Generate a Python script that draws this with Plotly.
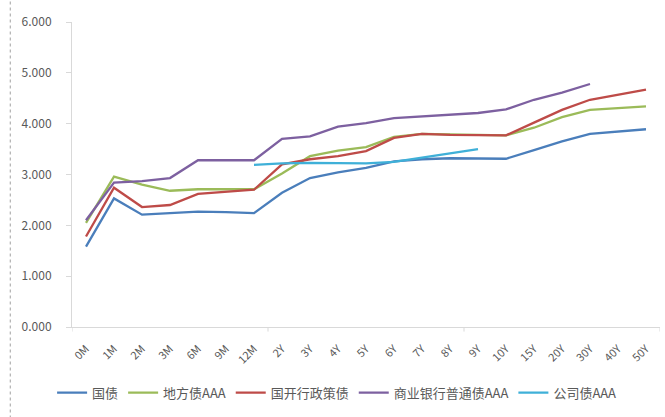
import plotly.graph_objects as go

categories = ["0M", "1M", "2M", "3M", "6M", "9M", "12M", "2Y", "3Y", "4Y", "5Y",
              "6Y", "7Y", "8Y", "9Y", "10Y", "15Y", "20Y", "30Y", "40Y", "50Y"]

guozhai = [1.58, 2.53, 2.21, 2.24, 2.27, 2.26, 2.24, 2.64, 2.93, 3.04, 3.13,
           3.26, 3.30, 3.32, 3.32, 3.31, 3.48, 3.65, 3.80, 3.85, 3.89]
difangzhai = [2.05, 2.96, 2.80, 2.68, 2.71, 2.71, 2.71, 3.02, 3.36, 3.47, 3.54,
              3.74, 3.80, 3.79, 3.78, 3.77, 3.92, 4.13, 4.27, 4.31, 4.34]
guokaihang = [1.78, 2.74, 2.36, 2.40, 2.62, 2.66, 2.70, 3.20, 3.30, 3.36, 3.46,
              3.72, 3.80, 3.78, 3.77, 3.77, 4.02, 4.27, 4.47, 4.57, 4.67]
shangyeyinhang = [2.10, 2.84, 2.87, 2.93, 3.28, 3.28, 3.28, 3.70, 3.75, 3.94, 4.01,
                  4.11, 4.14, 4.17, 4.21, 4.28, 4.47, 4.61, 4.78, None, None]
gongsizhai = [None, None, None, None, None, None, 3.19, 3.22, 3.23, 3.22, 3.22,
              3.25, 3.33, 3.42, 3.50, None, None, None, None, None, None]

series = [
    ("国债", guozhai, "#4a7ebb"),
    ("地方债AAA", difangzhai, "#9bbb59"),
    ("国开行政策债", guokaihang, "#be4b48"),
    ("商业银行普通债AAA", shangyeyinhang, "#7d60a0"),
    ("公司债AAA", gongsizhai, "#3fb0d8"),
]

fig = go.Figure()
for name, vals, color in series:
    fig.add_trace(go.Scatter(x=categories, y=vals, name=name, mode="lines",
                             line=dict(color=color, width=2.3), connectgaps=False))

# x-axis tick marks every 7 categories (at category boundaries)
tick_boundaries = [-0.5, 6.5, 13.5, 20.5]
shapes = [dict(type="line", xref="x", yref="paper", x0=b, x1=b, y0=0, y1=-0.015,
               line=dict(color="#d9d9d9", width=1)) for b in tick_boundaries]
shapes.append(dict(type="line", xref="paper", yref="paper",
                   x0=-0.105, x1=-0.105, y0=-0.3, y1=1.075,
                   line=dict(color="#a0a0a0", width=1, dash="dot")))

font_family = "Noto Sans CJK SC, Noto Sans, sans-serif"
fig.update_layout(
    width=665, height=417,
    margin=dict(l=72, r=5, t=22, b=90),
    paper_bgcolor="white", plot_bgcolor="white",
    font=dict(family=font_family, size=11, color="#595959"),
    showlegend=True,
    legend=dict(orientation="h", x=0.45, xanchor="center", y=-0.215, yanchor="middle",
                font=dict(size=13, color="#595959"), itemwidth=30,
                tracegroupgap=0),
    xaxis=dict(type="category", tickangle=-45, showgrid=False, showline=True,
               linecolor="#d9d9d9", linewidth=1, ticks="", zeroline=False,
               ticklabelstandoff=10,
               tickfont=dict(size=11, color="#595959"),
               range=[-0.5, 20.5]),
    yaxis=dict(range=[0, 6], dtick=1, tickformat=".3f", showgrid=False,
               showline=True, linecolor="#d9d9d9", linewidth=1, ticks="outside",
               tickcolor="#d9d9d9", ticklen=5, zeroline=False,
               ticklabelstandoff=12,
               tickfont=dict(size=12, color="#595959")),
    shapes=shapes,
)

fig.write_html("out.html")
